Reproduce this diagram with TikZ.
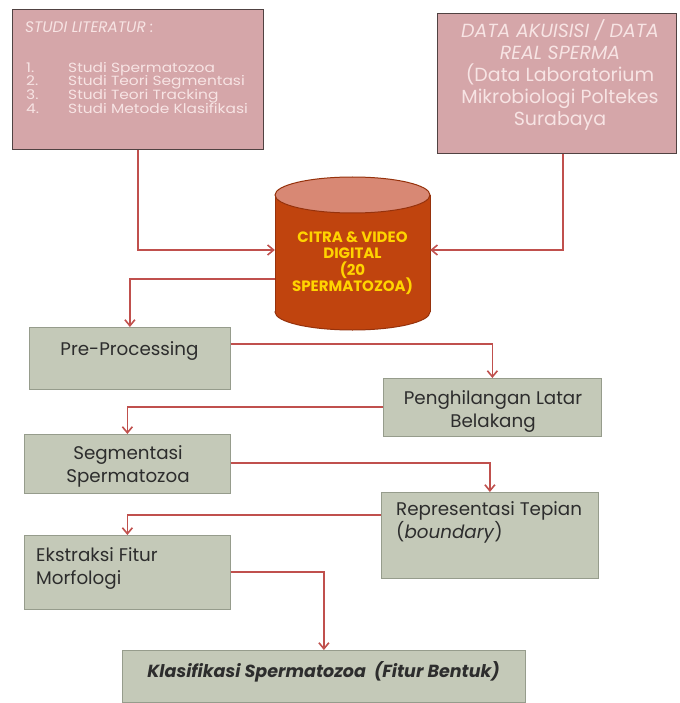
\documentclass[tikz,border=0pt]{standalone}
\usepackage{fontspec}
\setmainfont{Poppins}
\newfontfamily\litfont{Poppins}[FakeStretch=1.16]
\usetikzlibrary{arrows.meta}
\definecolor{pinkfill}{RGB}{213,166,169}
\definecolor{pinkborder}{RGB}{80,66,66}
\definecolor{pinktext}{RGB}{247,228,228}
\definecolor{cylbody}{RGB}{192,68,14}
\definecolor{cyltop}{RGB}{216,136,116}
\definecolor{cylborder}{RGB}{150,50,12}
\definecolor{cyltext}{RGB}{255,212,0}
\definecolor{grayfill}{RGB}{196,201,184}
\definecolor{grayborder}{RGB}{150,156,140}
\definecolor{textdark}{RGB}{45,45,45}
\definecolor{connred}{RGB}{192,80,77}
\newcommand\mytightlines{\setlength{\lineskiplimit}{-100pt}\setlength{\lineskip}{0pt}}
\begin{document}
\begin{tikzpicture}[x=1pt,y=-1pt,
  pinkbox/.style={draw=pinkborder, fill=pinkfill, line width=1.2pt, anchor=north west, inner sep=0pt},
  graybox/.style={draw=grayborder, fill=grayfill, line width=0.8pt, anchor=north west, inner sep=0pt},
  conn/.style={draw=connred, line width=1.6pt, -{Straight Barb[length=6pt,width=10pt]}},
  txt/.style={inner sep=0pt, text=textdark, font=\fontsize{18.3}{23}\selectfont},
  littxt/.style={inner sep=0pt, text=pinktext, font=\fontsize{15.5}{14}\selectfont, anchor=base west},
  datatxt/.style={inner sep=0pt, text=pinktext, font=\fontsize{19}{22}\selectfont, anchor=base},
  cyltxt/.style={inner sep=0pt, text=cyltext, font=\bfseries\fontsize{15}{16}\selectfont, anchor=base}]
\useasboundingbox (0,0) rectangle (679,703);
\fill[white] (0,0) rectangle (679,703);

% boxes
\node[pinkbox, minimum width=251pt, minimum height=140pt] (lit) at (12,9) {};
\node[pinkbox, minimum width=239pt, minimum height=140pt] (data) at (437,13) {};
\node[inner sep=0pt, minimum width=155pt, minimum height=153pt] (cyl) at (352.5,253.5) {};
\node[graybox, minimum width=201pt, minimum height=62pt] (pre) at (29,327) {};
\node[graybox, minimum width=218pt, minimum height=58pt] (peng) at (383,378) {};
\node[graybox, minimum width=206pt, minimum height=59pt] (seg) at (24,434) {};
\node[graybox, minimum width=217pt, minimum height=86pt] (rep) at (381,492) {};
\node[graybox, minimum width=206pt, minimum height=74pt] (eks) at (24,535) {};
\node[graybox, minimum width=403pt, minimum height=52pt] (klas) at (122,650) {};

% cylinder
\filldraw[fill=cylbody, draw=cylborder, line width=1pt] (352.5,312) ellipse [x radius=77.5pt, y radius=18pt];
\fill[cylbody] (275,195) rectangle (430,312);
\draw[cylborder, line width=1pt] (275,195) -- (275,312) (430,195) -- (430,312);
\filldraw[fill=cyltop, draw=cylborder, line width=1pt] (352.5,195) ellipse [x radius=77.5pt, y radius=18pt];

% texts: studi literatur
\node[littxt, font=\itshape\fontsize{15.3}{14}\selectfont] (lith) at (25,33) {STUDI LITERATUR :};
\node[littxt, anchor=north west, align=left,
      font=\litfont\fontsize{13.3}{13.7}\selectfont\mytightlines] (litlist) at (26,61.7)
  {\makebox[42pt][l]{1.}Studi Spermatozoa\\
   \makebox[42pt][l]{2.}Studi Teori Segmentasi\\
   \makebox[42pt][l]{3.}Studi Teori Tracking\\
   \makebox[42pt][l]{4.}Studi Metode Klasifikasi};

% texts: data akuisisi
\node[datatxt, font=\itshape\fontsize{19}{22}\selectfont] (d1) at (560,38) {DATA AKUISISI / DATA};
\node[datatxt, font=\itshape\fontsize{19}{22}\selectfont] (d2) at (560,60) {REAL SPERMA};
\node[datatxt] (d3) at (560,82) {(Data Laboratorium};
\node[datatxt] (d4) at (560,104) {Mikrobiologi Poltekes};
\node[datatxt] (d5) at (560,126) {Surabaya};

% texts: cylinder
\node[cyltxt] (c1) at (352.5,242) {CITRA \& VIDEO};
\node[cyltxt] (c2) at (352.5,258.5) {DIGITAL};
\node[cyltxt] (c3) at (352.5,275) {(20};
\node[cyltxt] (c4) at (352.5,291.5) {SPERMATOZOA)};

% texts: process boxes
\node[txt, anchor=base] (tpre) at (129.5,355) {Pre-Processing};
\node[txt, anchor=base] (tpeng1) at (493,404) {Penghilangan Latar};
\node[txt, anchor=base] (tpeng2) at (493,427) {Belakang};
\node[txt, anchor=base] (tseg1) at (128,459) {Segmentasi};
\node[txt, anchor=base] (tseg2) at (128,482) {Spermatozoa};
\node[txt, anchor=base west] (trep1) at (396,515) {Representasi Tepian};
\node[txt, anchor=base west] (trep2) at (396,538) {(\textit{boundary})};
\node[txt, anchor=base west] (teks1) at (36,561) {Ekstraksi Fitur};
\node[txt, anchor=base west] (teks2) at (36,584) {Morfologi};
\node[txt, anchor=base, font=\bfseries\itshape\fontsize{17.5}{20}\selectfont] (tklas) at (323.5,677) {Klasifikasi Spermatozoa\ \ (Fitur Bentuk)};

% connectors
\draw[conn] (lit.south) |- (cyl.west |- 0,250);
\draw[conn] (data.south -| 563,0) |- (cyl.east |- 0,250);
\draw[conn] (cyl.west |- 0,279) -| (pre.north);
\draw[conn] (pre.east |- 0,344) -| (peng.north);
\draw[conn] (peng.west |- 0,407) -| (seg.north);
\draw[conn] (seg.east |- 0,463) -| (rep.north);
\draw[conn] (rep.west |- 0,515) -| (eks.north);
\draw[conn] (eks.east |- 0,572) -| (klas.north);
\end{tikzpicture}
\end{document}
